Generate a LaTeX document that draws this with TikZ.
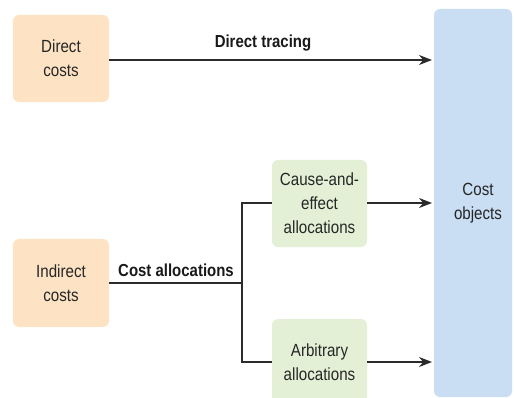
\documentclass[tikz,border=0pt]{standalone}
\usepackage{fontspec}
\setmainfont{Liberation Sans}[FakeStretch=0.86]
\usetikzlibrary{arrows.meta}
\definecolor{orangebox}{HTML}{FDE3C4}
\definecolor{greenbox}{HTML}{E3F0D6}
\definecolor{bluebox}{HTML}{C9DDF3}
\definecolor{linecol}{HTML}{2B2B2B}
\tikzset{
  box/.style={rounded corners=6pt, inner sep=0pt, align=center, font=\fontsize{17.6}{24}\selectfont, text=black!85},
  conn/.style={draw=linecol, line width=1.4pt},
  arr/.style={conn, -{Stealth[length=13pt,width=10pt]}},
  lbl/.style={font=\fontsize{17.4}{20}\selectfont\bfseries, text=black!90},
}
\begin{document}
\begin{tikzpicture}[x=1pt,y=-1pt]
\useasboundingbox (0,0) rectangle (514,398);
\fill[orangebox, rounded corners=6pt] (13,15) rectangle (109,102);
\node[box] (dc) at (61,58.5) {Direct\\costs};
\fill[orangebox, rounded corners=6pt] (13,239) rectangle (109,327);
\node[box] (ic) at (61,283) {Indirect\\costs};
\fill[greenbox, rounded corners=6pt] (272,160) rectangle (367,247);
\node[box] (ce) at (319.5,203.5) {Cause-and-\\effect\\allocations};
\fill[greenbox, rounded corners=6pt] (272,319) rectangle (367,405);
\node[box] (ar) at (319.5,362) {Arbitrary\\allocations};
\fill[bluebox, rounded corners=6pt] (434,9) rectangle (512,397);
\node[box] (co) at (478,203) {Cost\\objects};
\coordinate (dcR) at (109,60);
\coordinate (dcT) at (432,60);
\coordinate (icR) at (109,283);
\coordinate (br) at (242,283);
\coordinate (ceL) at (272,203);
\coordinate (ceR) at (367,203);
\coordinate (coA) at (432,203);
\coordinate (arL) at (272,362);
\coordinate (arR) at (367,362);
\coordinate (coB) at (432,362);
\draw[arr] (dcR) -- (dcT);
\node[lbl] (dt) at (263,43) {Direct tracing};
\draw[conn] (icR) -- (br);
\draw[conn] (ceL) -- (br |- ceL) -- (br |- arL) -- (arL);
\node[lbl] (ca) at (176,270) {Cost allocations};
\draw[arr] (ceR) -- (coA);
\draw[arr] (arR) -- (coB);
\end{tikzpicture}
\end{document}
